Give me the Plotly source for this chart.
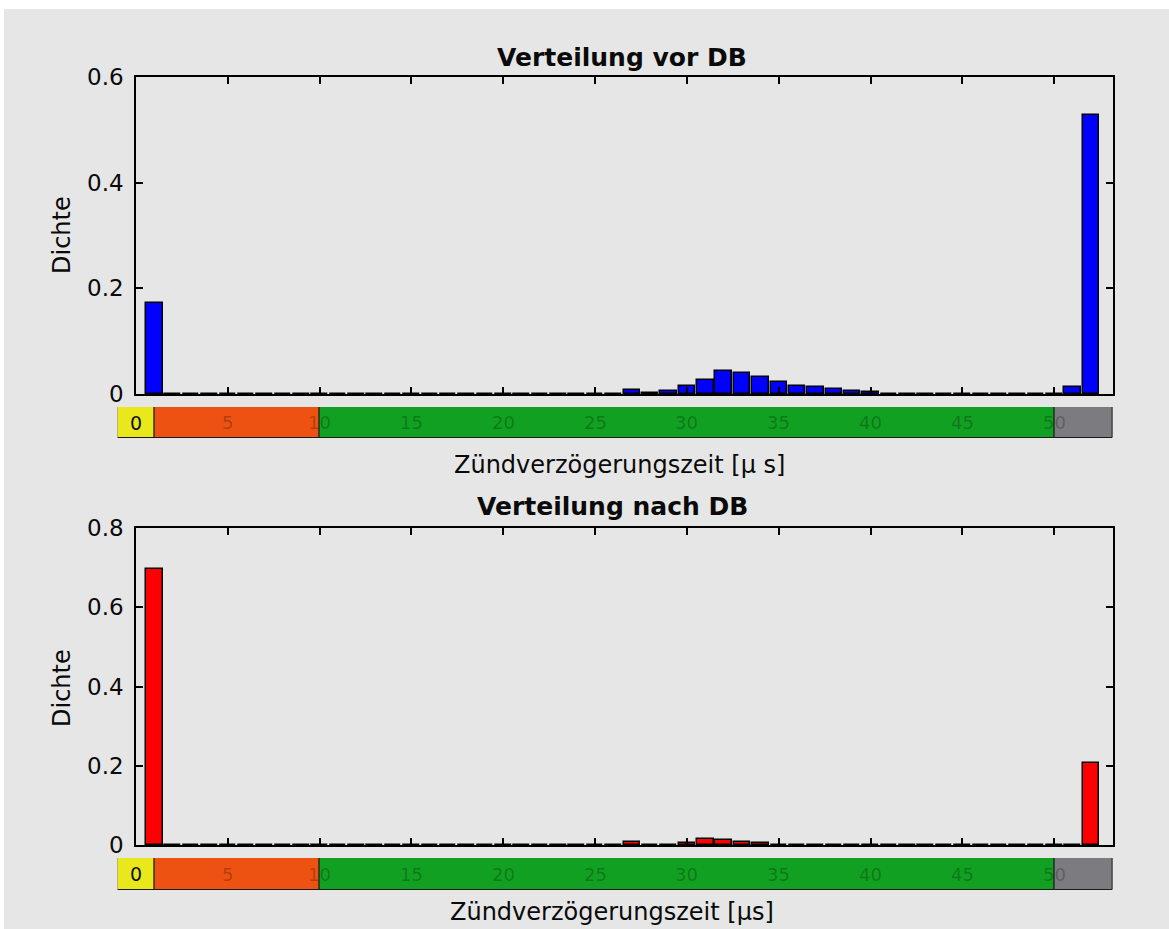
import plotly.graph_objects as go

# Histogram bins (ignition delay, µs) and densities before / after DB
bins = list(range(1, 53))
dichte_vor = [0.172] + [0.0] * 25 + [
    0.008, 0.002, 0.005, 0.015, 0.027, 0.044, 0.040, 0.032, 0.022, 0.015,
    0.013, 0.010, 0.006, 0.004] + [0.0] * 10 + [0.013, 0.528]
dichte_nach = [0.697] + [0.0] * 25 + [
    0.008, 0.0, 0.0, 0.004, 0.014, 0.012, 0.008, 0.006, 0.0, 0.0,
    0.0, 0.0, 0.0, 0.0] + [0.0] * 10 + [0.0, 0.207]

# Colour zones of the time strip below each axis
zone_start = [-1, 1, 10, 50]
zone_end = [1, 10, 50, 53.2]
zone_colors = ["#e8e81c", "#ee5212", "#12a022", "#7c7c80"]
strip_labels = [0, 5, 10, 15, 20, 25, 30, 35, 40, 45, 50]

W, H = 1169, 929
X_MAX = 53.2
FONT = "DejaVu Sans"
BG = "#e6e6e6"


def px(x):
    return x / W


def py(y):
    return 1 - y / H


fig = go.Figure()

# Main bar axes
fig.add_trace(go.Bar(x=bins, y=dichte_vor, width=0.9, xaxis="x", yaxis="y",
                     marker=dict(color="#0000ff", line=dict(color="#000000", width=1.5)),
                     showlegend=False))
fig.add_trace(go.Bar(x=bins, y=dichte_nach, width=0.9, xaxis="x2", yaxis="y2",
                     marker=dict(color="#ff0000", line=dict(color="#000000", width=1.5)),
                     showlegend=False))

# Colour strips
zone_mid = [(a + b) / 2 for a, b in zip(zone_start, zone_end)]
zone_width = [b - a for a, b in zip(zone_start, zone_end)]
for xa, ya in (("x3", "y3"), ("x4", "y4")):
    fig.add_trace(go.Bar(x=zone_mid, y=[1] * len(zone_mid), width=zone_width,
                         xaxis=xa, yaxis=ya,
                         marker=dict(color=zone_colors, line=dict(color="#1a1a1a", width=1)),
                         showlegend=False))

axis_common = dict(showline=True, linecolor="black", linewidth=1.6, mirror="ticks",
                   ticks="inside", ticklen=7, tickwidth=1.6, tickcolor="black",
                   showgrid=False, zeroline=False, automargin=False)

x_dom = [px(136), px(1113)]
strip_dom = [px(117.6), px(1113)]
tick_font = dict(family=FONT, size=23, color="#0a0a0a")

fig.update_layout(
    width=W, height=H,
    margin=dict(l=0, r=0, t=0, b=0, pad=0, autoexpand=False),
    paper_bgcolor=BG, plot_bgcolor=BG,
    bargap=0,
    xaxis=dict(domain=x_dom, range=[0, X_MAX], tick0=0, dtick=5,
               showticklabels=False, anchor="y", **axis_common),
    yaxis=dict(domain=[py(394), py(77)], range=[0, 0.6],
               tickvals=[0, 0.2, 0.4, 0.6], ticktext=["0", "0.2", "0.4", "0.6"],
               tickfont=tick_font, ticklabelstandoff=6,
               anchor="x", **axis_common),
    xaxis2=dict(domain=x_dom, range=[0, X_MAX], tick0=0, dtick=5,
                showticklabels=False, anchor="y2", **axis_common),
    yaxis2=dict(domain=[py(845), py(528)], range=[0, 0.8],
                tickvals=[0, 0.2, 0.4, 0.6, 0.8],
                ticktext=["0", "0.2", "0.4", "0.6", "0.8"],
                tickfont=tick_font, ticklabelstandoff=6,
                anchor="x2", **axis_common),
    xaxis3=dict(domain=strip_dom, range=[-1, X_MAX], visible=False, anchor="y3"),
    yaxis3=dict(domain=[py(438), py(407)], range=[0, 1], visible=False, anchor="x3"),
    xaxis4=dict(domain=strip_dom, range=[-1, X_MAX], visible=False, anchor="y4"),
    yaxis4=dict(domain=[py(890), py(858)], range=[0, 1], visible=False, anchor="x4"),
)

annotations = []
# Labels printed inside the strips
for xa, ya in (("x3", "y3"), ("x4", "y4")):
    for v in strip_labels:
        annotations.append(dict(
            x=v, y=0.5, xref=xa, yref=ya, text=str(v), showarrow=False,
            font=dict(family=FONT, size=19 if v == 0 else 18,
                      color="#111111" if v == 0 else "rgba(0,0,0,0.25)")))

text_items = [
    ("<b>Verteilung vor DB</b>", 622, 57, 25, 0),
    ("Zündverzögerungszeit [μ s]", 619, 465, 24, 0),
    ("<b>Verteilung nach DB</b>", 612, 506, 25, 0),
    ("Zündverzögerungszeit [μs]", 612, 912, 24, 0),
    ("Dichte", 62, 235, 24, -90),
    ("Dichte", 62, 688, 24, -90),
]
for txt, x, y, size, angle in text_items:
    annotations.append(dict(
        x=px(x), y=py(y), xref="paper", yref="paper", text=txt, showarrow=False,
        textangle=angle, xanchor="center", yanchor="middle",
        font=dict(family=FONT, size=size, color="#0a0a0a")))

fig.update_layout(annotations=annotations)

# White border along the top and left edges
fig.add_shape(type="rect", xref="paper", yref="paper", x0=0, x1=1, y0=py(9), y1=1,
              fillcolor="white", line=dict(width=0), layer="below")
fig.add_shape(type="rect", xref="paper", yref="paper", x0=0, x1=px(4), y0=0, y1=1,
              fillcolor="white", line=dict(width=0), layer="below")

fig.write_html("out.html")
